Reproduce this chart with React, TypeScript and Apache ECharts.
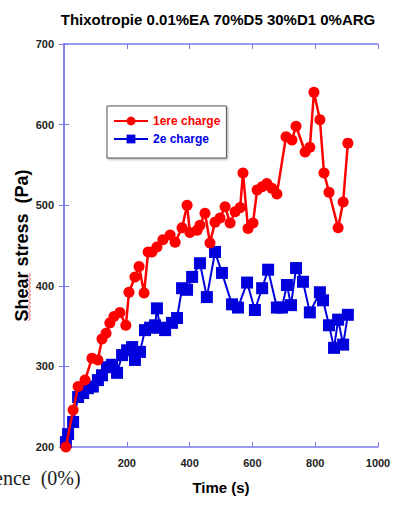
import React, { useEffect, useRef } from "react";
import * as echarts from "echarts";

const red_t = [6, 29, 45, 67, 89, 108, 121, 134, 146, 159, 178, 197, 207, 226, 239, 255, 268, 280, 296, 315, 338, 354, 376, 392, 401, 424, 433, 449, 465, 481, 497, 513, 529, 545, 561, 570, 586, 602, 615, 631, 646, 662, 678, 707, 726, 739, 768, 783, 796, 815, 828, 844, 873, 889, 904];
const red_v = [200, 246, 275, 283, 310, 308, 334, 341, 354, 362, 367, 351, 392, 411, 424, 391, 442, 442, 448, 457, 463, 454, 472, 500, 466, 469, 475, 490, 453, 479, 484, 498, 478, 492, 497, 540, 471, 478, 519, 523, 527, 521, 514, 585, 581, 598, 566, 572, 640, 606, 540, 516, 472, 504, 577];

const blue_t = [6, 13, 29, 45, 61, 76, 92, 108, 121, 137, 153, 169, 185, 201, 217, 226, 242, 258, 274, 290, 296, 306, 322, 344, 360, 376, 392, 408, 433, 455, 481, 503, 535, 554, 583, 608, 631, 650, 678, 694, 710, 723, 739, 761, 783, 815, 825, 844, 860, 873, 889, 904];
const blue_v = [206, 216, 231, 262, 267, 273, 275, 283, 289, 299, 302, 292, 314, 320, 324, 308, 318, 345, 348, 351, 372, 348, 345, 354, 360, 397, 395, 411, 428, 386, 442, 416, 377, 373, 404, 370, 397, 420, 373, 373, 401, 376, 422, 405, 367, 392, 382, 351, 323, 358, 327, 364];

const seriesNames = ["1ere charge", "2e charge"];
const xTicks = [200, 400, 600, 800, 1000];

const AXIS = "#7b7bee";

export default function App() {
  const ref = useRef<HTMLDivElement>(null);
  useEffect(() => {
    const chart = echarts.init(ref.current!, null, { renderer: "svg" });
    const font = "Liberation Sans, Arial, sans-serif";
    const tickLabel = { fontFamily: font, fontWeight: "bold" as const, fontSize: 11, color: "#222" };
    const squiggle: number[][] = [];
    for (let i = 0; i <= 24; i++) squiggle.push([i % 2 === 0 ? 28.5 : 30.5, 273 + i * 2]);
    chart.setOption({
      animation: false,
      backgroundColor: "#fff",
      title: {
        text: "Thixotropie 0.01%EA 70%D5 30%D1 0%ARG",
        left: 213,
        top: 7,
        textAlign: "center",
        textStyle: { fontFamily: font, fontWeight: "bold", fontSize: 15, color: "#000" },
      },
      grid: { left: 64, right: 18, top: 44, bottom: 63 },
      legend: {
        left: 107,
        top: 106,
        orient: "vertical",
        width: 100,
        padding: [9, 6, 13, 6],
        itemGap: 6,
        itemWidth: 34,
        itemHeight: 11,
        borderColor: "#555",
        borderWidth: 1,
        backgroundColor: "#fff",
        shadowColor: "rgba(0,0,0,0.35)",
        shadowBlur: 2,
        shadowOffsetX: 1,
        shadowOffsetY: 1,
        data: [
          { name: seriesNames[0], textStyle: { color: "#ff0000" } },
          { name: seriesNames[1], textStyle: { color: "#0000ee" } },
        ],
        textStyle: { fontFamily: font, fontWeight: "bold", fontSize: 12 },
      },
      xAxis: [
        {
          type: "value",
          min: 0,
          max: 1000,
          interval: 200,
          position: "bottom",
          axisLine: { show: true, lineStyle: { color: AXIS, width: 1.5 } },
          axisTick: { show: true, inside: true, length: 5, lineStyle: { color: AXIS } },
          splitLine: { show: false },
          axisLabel: {
            ...tickLabel,
            margin: 10,
            formatter: (v: number) => (xTicks.includes(v) ? String(v) : ""),
          },
          name: "Time (s)",
          nameLocation: "middle",
          nameGap: 33,
          nameMoveOverlap: false,
          nameTextStyle: { fontFamily: font, fontWeight: "bold", fontSize: 15, color: "#000" },
        },
        {
          type: "value",
          min: 0,
          max: 1000,
          interval: 200,
          position: "top",
          axisLine: { show: true, lineStyle: { color: AXIS, width: 1.5 } },
          axisTick: { show: true, inside: true, length: 5, lineStyle: { color: AXIS } },
          splitLine: { show: false },
          axisLabel: { show: false },
        },
      ],
      yAxis: [
        {
          type: "value",
          min: 200,
          max: 700,
          interval: 100,
          position: "left",
          axisLine: { show: true, lineStyle: { color: AXIS, width: 1.5 } },
          axisTick: { show: true, inside: true, length: 5, lineStyle: { color: AXIS } },
          splitLine: { show: false },
          axisLabel: { ...tickLabel, margin: 10 },
          name: "Shear stress  (Pa)",
          nameLocation: "middle",
          nameGap: 33,
          nameMoveOverlap: false,
          nameTextStyle: { fontFamily: font, fontWeight: "bold", fontSize: 18, color: "#000" },
        },
        {
          type: "value",
          min: 200,
          max: 700,
          interval: 100,
          position: "right",
          axisLine: { show: true, lineStyle: { color: AXIS, width: 1.5 } },
          axisTick: { show: true, inside: true, length: 5, lineStyle: { color: AXIS } },
          splitLine: { show: false },
          axisLabel: { show: false },
        },
      ],
      series: [
        {
          name: seriesNames[0],
          type: "line",
          xAxisIndex: 0,
          yAxisIndex: 0,
          data: red_t.map((t, i) => [t, red_v[i]]),
          symbol: "circle",
          symbolSize: 11,
          lineStyle: { color: "#ff0000", width: 2.5 },
          itemStyle: { color: "#ff0000" },
          z: 3,
        },
        {
          name: seriesNames[1],
          type: "line",
          xAxisIndex: 0,
          yAxisIndex: 0,
          data: blue_t.map((t, i) => [t, blue_v[i]]),
          symbol: "rect",
          symbolSize: 12,
          lineStyle: { color: "#0000dd", width: 2 },
          itemStyle: { color: "#0000dd" },
          z: 2,
        },
      ],
      graphic: [
        {
          type: "text",
          x: -6,
          y: 468,
          style: { text: "ence  (0%)", font: "20px 'Liberation Serif', serif", fill: "#222", verticalAlign: "top" },
        },
        {
          type: "polyline",
          shape: { points: squiggle },
          style: { stroke: "#ff3030", lineWidth: 0.8, fill: "none" },
          z: 10,
        },
      ],
    });
    return () => chart.dispose();
  }, []);
  return <div ref={ref} style={{ position: "absolute", left: 0, top: 0, width: 396, height: 510 }} />;
}
